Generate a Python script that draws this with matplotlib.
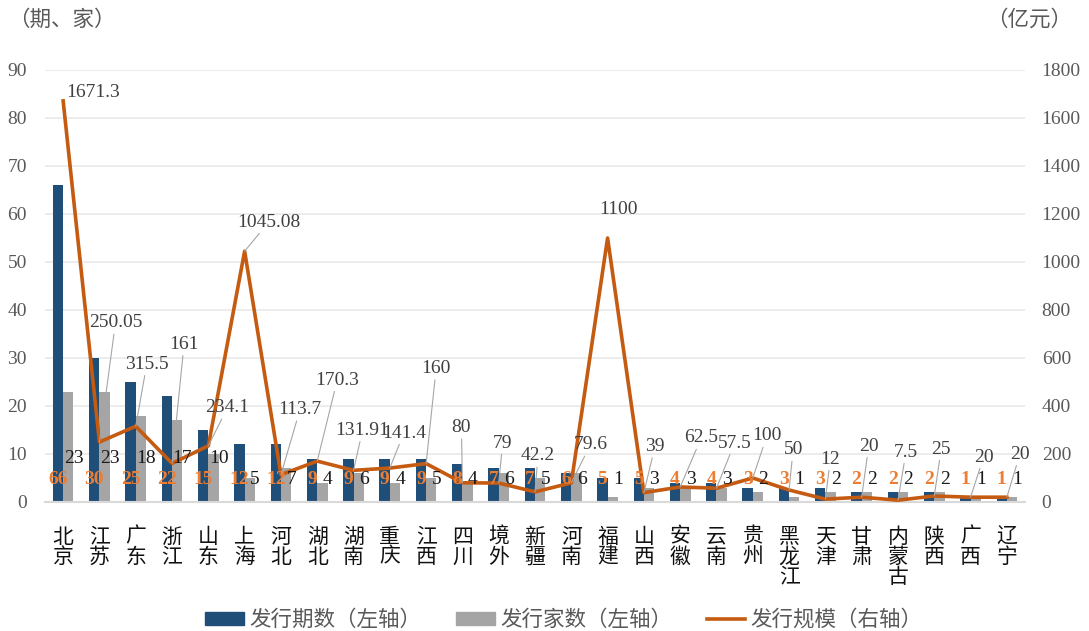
import numpy as np
import matplotlib
matplotlib.use("Agg")
import matplotlib.pyplot as plt
from matplotlib.patches import Patch
from matplotlib.lines import Line2D

plt.rcParams['font.family'] = ['Liberation Serif', 'Noto Sans CJK SC', 'DejaVu Sans']

# data
provinces = ['北京', '江苏', '广东', '浙江', '山东', '上海', '河北', '湖北', '湖南',
             '重庆', '江西', '四川', '境外', '新疆', '河南', '福建', '山西', '安徽',
             '云南', '贵州', '黑龙江', '天津', '甘肃', '内蒙古', '陕西', '广西', '辽宁']
periods = [66, 30, 25, 22, 15, 12, 12, 9, 9, 9, 9, 8, 7, 7, 6, 5, 5, 4, 4, 3, 3, 3, 2, 2, 2, 1, 1]
issuers = [23, 23, 18, 17, 10, 5, 7, 4, 6, 4, 5, 4, 6, 5, 6, 1, 3, 3, 3, 2, 1, 2, 2, 2, 2, 1, 1]
scale = [1671.3, 250.05, 315.5, 161, 234.1, 1045.08, 113.7, 170.3, 131.91, 141.4, 160,
         80, 79, 42.2, 79.6, 1100, 39, 62.5, 57.5, 100, 50, 12, 20, 7.5, 25, 20, 20]
scale_text = ['1671.3', '250.05', '315.5', '161', '234.1', '1045.08', '113.7', '170.3',
              '131.91', '141.4', '160', '80', '79', '42.2', '79.6', '1100', '39', '62.5',
              '57.5', '100', '50', '12', '20', '7.5', '25', '20', '20']

# label offsets for the scale labels (pixels, relative to the line point)
lab_dx = [30, 16, 11, 12, 19, 24, 19, 20, 9, 14, 10, -1, 4, 3, 19, 11, 11, 21, 18, 14, 4, 5, 7, 8, 7, 13, 13]
lab_dy = [8, 119, 62, 119, 38, 29, 65, 81, 40, 35, 95, 55, 40, 36, 38, 29, 46, 49, 45, 42, 40, 40, 51, 48, 47, 40, 43]

BLUE = '#1F4E79'
GREY = '#A5A5A5'
ORANGE = '#C55A11'
LABEL_ORANGE = '#ED7D31'
TXT = '#595959'

fig = plt.figure(figsize=(10.89, 6.31), dpi=100)
ax = fig.add_axes([45 / 1089, 1 - 502 / 631, 980 / 1089, 432 / 631])
ax2 = ax.twinx()

x = np.arange(len(provinces))
w = 0.285
ax.bar(x - w / 2, periods, w, color=BLUE, zorder=2)
ax.bar(x + w / 2, issuers, w, color=GREY, zorder=2)

ax.set_xlim(-0.5, len(provinces) - 0.5)
ax.set_ylim(0, 90)
ax.set_yticks(np.arange(0, 91, 10))
ax.grid(axis='y', color='#EBEBEB', lw=1.3, zorder=0)
ax.set_axisbelow(True)
for s in ['top', 'left', 'right']:
    ax.spines[s].set_visible(False)
    ax2.spines[s].set_visible(False)
ax.spines['bottom'].set_color('#D9D9D9')
ax.spines['bottom'].set_linewidth(1.5)
ax2.spines['bottom'].set_visible(False)

ax.set_xticks(x)
ax.set_xticklabels(['\n'.join(p) for p in provinces], family='Noto Sans CJK SC',
                   fontsize=15, linespacing=0.88, va='top')
ax.tick_params(axis='x', length=0, pad=17, colors='#111111')
ax.tick_params(axis='y', length=0, pad=13, labelsize=14, labelcolor=TXT)

ax2.plot(x, scale, color=ORANGE, lw=2.6, zorder=3)
ax2.set_ylim(0, 1800)
ax2.set_yticks(np.arange(0, 1801, 200))
ax2.tick_params(axis='y', length=0, pad=12, labelsize=14, labelcolor=TXT)

# bar labels
for i in range(len(provinces)):
    ax2.text(x[i] - w / 2, 4.6 * 20, str(periods[i]), ha='center', va='center',
             fontsize=14, fontweight='bold', color=LABEL_ORANGE, zorder=5)
    yy = 9.0 if issuers[i] >= 10 else 4.6
    ax2.text(x[i] + w, yy * 20, str(issuers[i]), ha='center', va='center',
             fontsize=14, color='#1a1a1a', zorder=5)

# line labels with leader lines
for i in range(len(provinces)):
    far = np.hypot(lab_dx[i], lab_dy[i]) > 35
    ax2.annotate(scale_text[i], xy=(x[i], scale[i]), xytext=(lab_dx[i], lab_dy[i]),
                 textcoords='offset pixels', ha='center', va='center',
                 fontsize=14, color='#404040', zorder=6,
                 arrowprops=dict(arrowstyle='-', color='#A6A6A6', lw=0.8,
                                 shrinkA=0, shrinkB=0) if far else None)

fig.text(8 / 1089, 1 - 20 / 631, '（期、家）', family='Noto Sans CJK SC',
         fontsize=15.5, color=TXT, ha='left', va='center')
fig.text(1072 / 1089, 1 - 20 / 631, '（亿元）', family='Noto Sans CJK SC',
         fontsize=15.5, color=TXT, ha='right', va='center')

handles = [Patch(color=BLUE), Patch(color=GREY), Line2D([], [], color=ORANGE, lw=2.6)]
fig.legend(handles, ['发行期数（左轴）', '发行家数（左轴）', '发行规模（右轴）'],
           loc='center', bbox_to_anchor=(564 / 1089, 1 - 620 / 631), ncol=3, frameon=False,
           prop={'family': 'Noto Sans CJK SC', 'size': 15.5}, labelcolor=TXT,
           handlelength=1.8, handleheight=0.6, columnspacing=1.6, handletextpad=0.25)

fig.savefig('out.png', dpi=100)
